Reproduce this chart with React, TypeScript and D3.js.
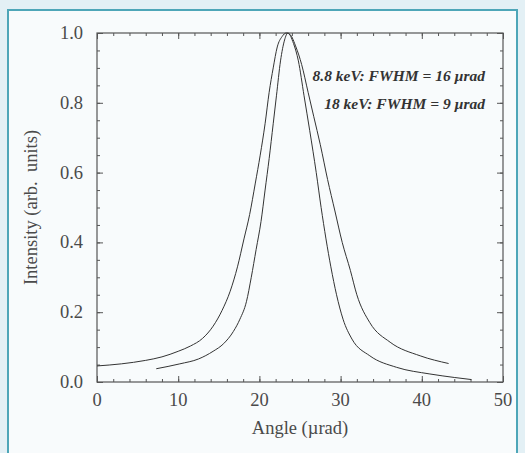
import {useEffect, useRef} from 'react';
import * as d3 from 'd3';

// 8.8 keV rocking curve (the wider one)
const angles88 = [0, 3, 6, 8, 10, 11.5, 13, 14.3, 15.4, 16.4, 17.3, 18.1, 18.8, 19.5, 20.1, 20.7, 21.2, 21.7, 22.2, 22.8, 23.3,
    23.8, 24.5, 25.2, 26.0, 26.7, 27.5, 28.4, 29.3, 30.2, 31.2, 32.0, 33.6, 36.1, 39.8, 43.3];
const intensity88 = [0.046, 0.052, 0.062, 0.072, 0.088, 0.103, 0.125, 0.16, 0.205, 0.26, 0.33, 0.41, 0.48, 0.57, 0.65, 0.74, 0.83, 0.9, 0.96, 0.99, 1.0,
    0.995, 0.96, 0.91, 0.83, 0.76, 0.68, 0.58, 0.49, 0.4, 0.32, 0.25, 0.17, 0.114, 0.075, 0.053];

// 18 keV rocking curve (the narrow one)
const angles18 = [7.3, 10.2, 12.5, 14.3, 15.6, 16.8, 17.6, 18.4, 19.0, 19.6, 20.2, 20.7, 21.2, 21.7, 22.1, 22.6, 23.1, 23.5,
    24.2, 24.8, 25.5, 26.2, 27.0, 27.6, 28.2, 28.8, 29.5, 30.3, 31.4, 33.6, 36.9, 41.0, 44.0, 46.1];
const intensity18 = [0.038, 0.052, 0.066, 0.088, 0.11, 0.145, 0.18, 0.23, 0.3, 0.38, 0.46, 0.55, 0.64, 0.74, 0.82, 0.92, 0.98, 1.0,
    0.97, 0.92, 0.82, 0.72, 0.6, 0.5, 0.41, 0.33, 0.25, 0.18, 0.123, 0.075, 0.042, 0.023, 0.013, 0.007];

const xTicks = [0, 10, 20, 30, 40, 50];
const yTicks = [0.0, 0.2, 0.4, 0.6, 0.8, 1.0];
const notes = ['8.8 keV: FWHM = 16 \u00b5rad', '18 keV: FWHM = 9 \u00b5rad'];

export default function App() {
    const ref = useRef(null);

    useEffect(() => {
        const width = 525;
        const height = 453;
        const m = {left: 97, right: 503, top: 33, bottom: 382};
        const font = '"Liberation Serif", "Times New Roman", serif';
        const ink = '#4a4a4a';

        const svg = d3.select(ref.current);
        svg.selectAll('*').remove();
        svg.attr('width', width).attr('height', height).attr('viewBox', `0 0 ${width} ${height}`);

        // page background and framed panel
        svg.append('rect').attr('width', width).attr('height', height).attr('fill', '#e3f0f5');
        svg.append('rect')
            .attr('x', 8).attr('y', 10).attr('width', 509).attr('height', 460)
            .attr('fill', '#f8fbfc').attr('stroke', '#4ea6b8').attr('stroke-width', 2);

        const x = d3.scaleLinear().domain([0, 50]).range([m.left, m.right]);
        const y = d3.scaleLinear().domain([0, 1]).range([m.bottom, m.top]);

        const styleAxis = (g) => {
            g.select('.domain').remove();
            g.selectAll('line').attr('stroke', '#555').attr('stroke-width', 1);
            g.selectAll('text').remove();
        };

        const xMinor = d3.range(0, 50.01, 2);
        const yMinor = d3.range(0, 1.001, 0.05);

        // inward ticks on all four sides
        svg.append('g').attr('transform', `translate(0,${m.bottom})`)
            .call(d3.axisBottom(x).tickValues(xMinor).tickSize(-3)).call(styleAxis);
        svg.append('g').attr('transform', `translate(0,${m.bottom})`)
            .call(d3.axisBottom(x).tickValues(xTicks).tickSize(-6)).call(styleAxis);
        svg.append('g').attr('transform', `translate(0,${m.top})`)
            .call(d3.axisTop(x).tickValues(xMinor).tickSize(-3)).call(styleAxis);
        svg.append('g').attr('transform', `translate(0,${m.top})`)
            .call(d3.axisTop(x).tickValues(xTicks).tickSize(-6)).call(styleAxis);
        svg.append('g').attr('transform', `translate(${m.left},0)`)
            .call(d3.axisLeft(y).tickValues(yMinor).tickSize(-3)).call(styleAxis);
        svg.append('g').attr('transform', `translate(${m.left},0)`)
            .call(d3.axisLeft(y).tickValues(yTicks).tickSize(-6)).call(styleAxis);
        svg.append('g').attr('transform', `translate(${m.right},0)`)
            .call(d3.axisRight(y).tickValues(yMinor).tickSize(-3)).call(styleAxis);
        svg.append('g').attr('transform', `translate(${m.right},0)`)
            .call(d3.axisRight(y).tickValues(yTicks).tickSize(-6)).call(styleAxis);

        svg.append('rect')
            .attr('x', m.left).attr('y', m.top)
            .attr('width', m.right - m.left).attr('height', m.bottom - m.top)
            .attr('fill', 'none').attr('stroke', '#555').attr('stroke-width', 1.2);

        // tick labels
        svg.selectAll('.xl').data(xTicks).enter().append('text')
            .attr('x', (d) => x(d)).attr('y', m.bottom + 24)
            .attr('text-anchor', 'middle').attr('font-family', font).attr('font-size', 18.5)
            .attr('fill', ink).text((d) => d);
        svg.selectAll('.yl').data(yTicks).enter().append('text')
            .attr('x', m.left - 14).attr('y', (d) => y(d) + 6)
            .attr('text-anchor', 'end').attr('font-family', font).attr('font-size', 18.5)
            .attr('fill', ink).text((d) => d.toFixed(1));

        svg.append('text')
            .attr('x', (m.left + m.right) / 2).attr('y', m.bottom + 52)
            .attr('text-anchor', 'middle').attr('font-family', font).attr('font-size', 18.5)
            .attr('fill', ink).text('Angle (\u00b5rad)');
        svg.append('text')
            .attr('transform', `translate(37,${(m.top + m.bottom) / 2}) rotate(-90)`)
            .attr('text-anchor', 'middle').attr('font-family', font).attr('font-size', 18.5)
            .attr('fill', ink).attr('xml:space', 'preserve').text('Intensity (arb.  units)');

        // curves
        const line = d3.line().x((d) => x(d[0])).y((d) => y(d[1])).curve(d3.curveMonotoneX);
        const series = [
            angles88.map((a, i) => [a, intensity88[i]]),
            angles18.map((a, i) => [a, intensity18[i]]),
        ];
        svg.selectAll('.curve').data(series).enter().append('path')
            .attr('d', line).attr('fill', 'none').attr('stroke', '#333').attr('stroke-width', 1);

        // annotations
        svg.selectAll('.note').data(notes).enter().append('text')
            .attr('x', 485).attr('y', (d, i) => 81 + i * 28)
            .attr('text-anchor', 'end').attr('font-family', font).attr('font-size', 15.5)
            .attr('font-style', 'italic').attr('font-weight', 'bold')
            .attr('fill', '#333').text((d) => d);
    }, []);

    return <svg ref={ref} style={{position: 'absolute', left: 0, top: 0}}></svg>;
}
